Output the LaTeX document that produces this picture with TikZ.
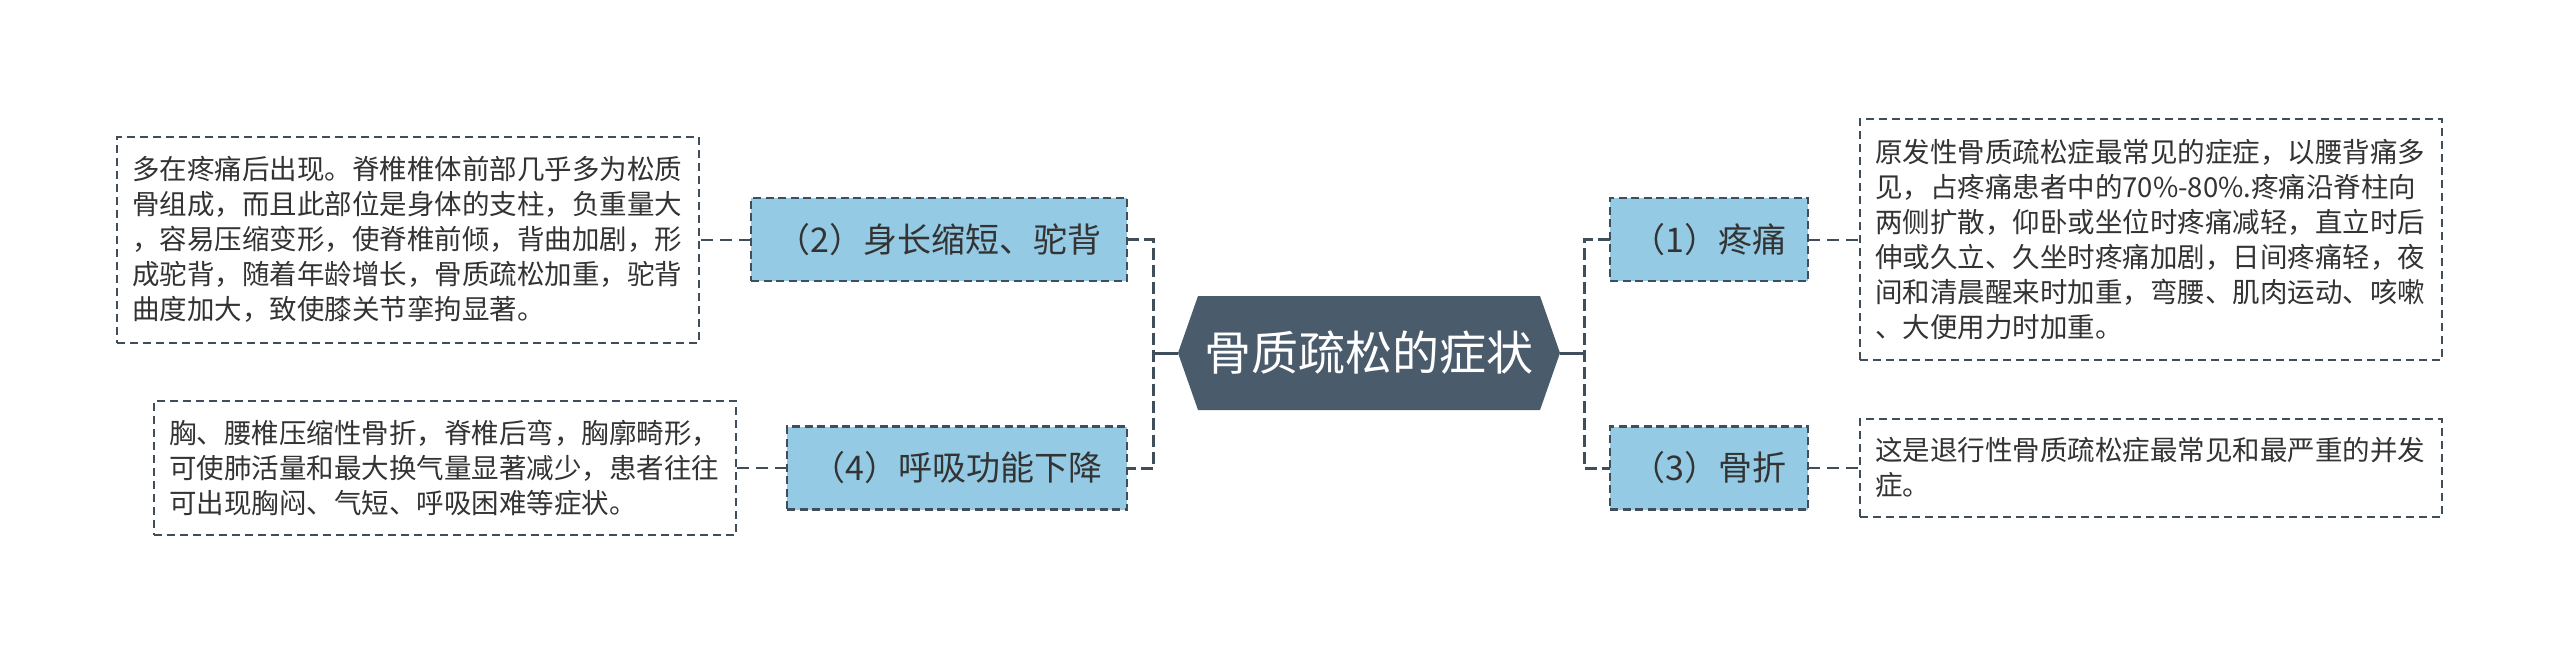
\documentclass[tikz,border=0pt]{standalone}
\usepackage{fontspec}
\usetikzlibrary{positioning}

\newfontfamily\cjk{Noto Sans CJK SC}

\definecolor{lineslate}{RGB}{64,78,92}
\definecolor{rootslate}{RGB}{74,91,108}
\definecolor{topicblue}{RGB}{148,202,228}
\definecolor{textgrey}{RGB}{51,51,51}

\pgfdeclarelayer{background}
\pgfsetlayers{background,main}

\begin{document}
\begin{tikzpicture}[%
  x=1pt, y=-1pt,
  rootbox/.style={minimum width=382pt, minimum height=114pt, inner sep=0pt,
    outer sep=0pt, text=white, font=\cjk\fontsize{47}{56}\selectfont},
  topic/.style={draw=lineslate, fill=topicblue, line width=2.5pt,
    dash pattern=on 8pt off 4.5pt, minimum height=83pt, inner sep=0pt,
    outer sep=0pt, text=textgrey, font=\cjk\fontsize{34}{40}\selectfont},
  detail/.style={draw=lineslate, line width=2pt, dash pattern=on 8pt off 5pt,
    text width=552pt, inner xsep=15pt, inner ysep=0pt, align=left,
    outer sep=0pt, text=textgrey, font=\cjk\fontsize{27.5}{35}\selectfont},
  trunk/.style={draw=lineslate, line width=3pt},
  branch/.style={draw=lineslate, line width=3pt, dash pattern=on 12pt off 5pt},
  twig/.style={draw=lineslate, line width=2pt, dash pattern=on 12pt off 7pt},
]

  \useasboundingbox (0,0) rectangle (2560,654);

  \node[rootbox] (root) at (1369,353) {骨质疏松的症状};

  \node[topic, minimum width=376pt, anchor=east] (t2) at (1127,239.5) {（2）身长缩短、驼背};
  \node[topic, minimum width=340pt, anchor=east] (t4) at (1127,468) {（4）呼吸功能下降};
  \node[topic, minimum width=198pt, anchor=west] (t1) at (1610,239.5) {（1）疼痛};
  \node[topic, minimum width=198pt, anchor=west] (t3) at (1610,468) {（3）骨折};

  \node[detail, minimum height=206pt, left=52pt of t2] (d2) {%
    多在疼痛后出现。脊椎椎体前部几乎多为松质\\
    骨组成，而且此部位是身体的支柱，负重量大\\
    ，容易压缩变形，使脊椎前倾，背曲加剧，形\\
    成驼背，随着年龄增长，骨质疏松加重，驼背\\
    曲度加大，致使膝关节挛拘显著。};
  \node[detail, minimum height=134pt, left=51pt of t4] (d4) {%
    胸、腰椎压缩性骨折，脊椎后弯，胸廓畸形，\\
    可使肺活量和最大换气量显著减少，患者往往\\
    可出现胸闷、气短、呼吸困难等症状。};
  \node[detail, minimum height=241pt, right=52pt of t1] (d1) {%
    原发性骨质疏松症最常见的症症，以腰背痛多\\
    见，占疼痛患者中的70\%-80\%.疼痛沿脊柱向\\
    两侧扩散，仰卧或坐位时疼痛减轻，直立时后\\
    伸或久立、久坐时疼痛加剧，日间疼痛轻，夜\\
    间和清晨醒来时加重，弯腰、肌肉运动、咳嗽\\
    、大便用力时加重。};
  \node[detail, minimum height=98pt, right=52pt of t3] (d3) {%
    这是退行性骨质疏松症最常见和最严重的并发\\
    症。};

  \begin{pgfonlayer}{background}
    \fill[white] (0,0) rectangle (2560,654);
    \fill[rootslate] ([xshift=20pt]root.north west) -- ([xshift=-20pt]root.north east)
      -- (root.east) -- ([xshift=-20pt]root.south east)
      -- ([xshift=20pt]root.south west) -- (root.west) -- cycle;
  \end{pgfonlayer}

  \coordinate (lhub) at (1153,353);
  \coordinate (rhub) at (1584,353);

  \draw[trunk] (root.west) -- (lhub);
  \draw[trunk] (root.east) -- (rhub);
  \draw[branch] (t2.east) -| (lhub) |- (t4.east);
  \draw[branch] (t1.west) -| (rhub) |- (t3.west);

  \draw[twig] (t2.west) -- (d2.east);
  \draw[twig] (t4.west) -- (d4.east);
  \draw[twig] (t1.east) -- (d1.west);
  \draw[twig] (t3.east) -- (d3.west);

\end{tikzpicture}
\end{document}
